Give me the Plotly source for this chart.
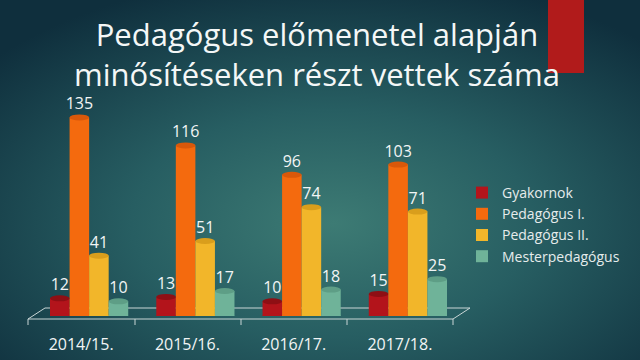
import base64
import plotly.graph_objects as go

categories = ["2014/15.", "2015/16.", "2016/17.", "2017/18."]
gyakornok = [12, 13, 10, 15]
pedagogus1 = [135, 116, 96, 103]
pedagogus2 = [41, 51, 74, 71]
mester = [10, 17, 18, 25]

series = [
    ("Gyakornok", gyakornok, "#B3141B", "#8E0F14"),
    ("Pedagógus I.", pedagogus1, "#F46A0E", "#D9580A"),
    ("Pedagógus II.", pedagogus2, "#F2B62A", "#D99E1C"),
    ("Mesterpedagógus", mester, "#6FB399", "#5E9E86"),
]

W, H = 640, 360
L, R, T, B = 36, 179, 91, 44
PW = W - L - R
PH = H - T - B
YMAX = 153
BARGAP = 0.264

svg = f'''<svg xmlns="http://www.w3.org/2000/svg" width="{W}" height="{H}">
<defs><radialGradient id="g" cx="52%" cy="62%" r="70%">
<stop offset="0" stop-color="#3D7B74"/>
<stop offset="0.45" stop-color="#275E62"/>
<stop offset="1" stop-color="#0F2F3D"/>
</radialGradient></defs>
<rect width="{W}" height="{H}" fill="url(#g)"/></svg>'''
bg = "data:image/svg+xml;base64," + base64.b64encode(svg.encode()).decode()

fig = go.Figure()
for name, vals, col, _ in series:
    fig.add_trace(go.Bar(
        x=categories, y=vals, name=name,
        marker=dict(color=col, line=dict(width=0)),
        text=[str(v) for v in vals], textposition="outside",
        textfont=dict(color="#F2F5F5", size=16, family="Open Sans"),
        cliponaxis=False, constraintext="none",
    ))


def px_x(p):
    return (p - L) / PW


def px_y(p):
    return (H - B - p) / PH


line = dict(color="#C9D6D6", width=1)
shapes = [
    dict(type="line", xref="paper", yref="paper", x0=px_x(28), x1=px_x(453),
         y0=px_y(319), y1=px_y(319), line=line, layer="below"),
    dict(type="line", xref="paper", yref="paper", x0=px_x(45), x1=px_x(470),
         y0=px_y(308), y1=px_y(308), line=line, layer="below"),
    dict(type="line", xref="paper", yref="paper", x0=px_x(28), x1=px_x(45),
         y0=px_y(319), y1=px_y(308), line=line, layer="below"),
    dict(type="line", xref="paper", yref="paper", x0=px_x(453), x1=px_x(470),
         y0=px_y(319), y1=px_y(308), line=line, layer="below"),
]
for tx in [28, 135, 241, 347, 453]:
    shapes.append(dict(type="line", xref="paper", yref="paper", x0=px_x(tx), x1=px_x(tx),
                       y0=px_y(319), y1=px_y(325), line=line, layer="below"))

# cylinder caps (top) and rounded bottoms, derived from the data
nser = len(series)
bw = (1 - BARGAP) / nser
cap_h = 3.0 * YMAX / PH  # half-height of ellipse in data units (~3px)
for si, (name, vals, col, dark) in enumerate(series):
    off = -(1 - BARGAP) / 2 + bw * (si + 0.5)
    for ci, v in enumerate(vals):
        xc = ci + off
        shapes.append(dict(type="circle", xref="x", yref="y",
                           x0=xc - bw / 2, x1=xc + bw / 2, y0=-cap_h, y1=cap_h,
                           fillcolor=col, line=dict(width=0), layer="above"))
        shapes.append(dict(type="circle", xref="x", yref="y",
                           x0=xc - bw / 2, x1=xc + bw / 2, y0=v - cap_h, y1=v + cap_h,
                           fillcolor=dark, line=dict(width=0), layer="above"))

# red accent block
shapes.append(dict(type="rect", xref="paper", yref="paper", x0=px_x(548), x1=px_x(584),
                   y0=px_y(73), y1=px_y(-2), fillcolor="#B11B1B", line=dict(width=0),
                   layer="above"))

title_text = "Pedagógus előmenetel alapján<br>minősítéseken részt vettek száma"
annotations = [dict(text=title_text, xref="paper", yref="paper", x=px_x(317), y=px_y(54),
                    xanchor="center", yanchor="middle", showarrow=False, align="center",
                    borderpad=0,
                    font=dict(size=31, color="#F4F7F7", family="Open Sans"))]

fig.update_layout(
    width=W, height=H,
    margin=dict(l=L, r=R, t=T, b=B),
    paper_bgcolor="#1B4650",
    plot_bgcolor="rgba(0,0,0,0)",
    barmode="group", bargap=BARGAP, bargroupgap=0,
    font=dict(family="Open Sans", color="#F2F5F5"),
    xaxis=dict(showgrid=False, zeroline=False, showline=False, automargin=False,
               ticks="outside", ticklen=14, tickcolor="rgba(0,0,0,0)",
               tickfont=dict(size=16, color="#F2F5F5"), ticklabelshift=-8),
    yaxis=dict(range=[0, YMAX], visible=False, automargin=False),
    legend=dict(xref="container", yref="container", x=462 / W, y=1 - 177 / H,
                xanchor="left", yanchor="top",
                font=dict(size=14, color="#E6ECEC"), bgcolor="rgba(0,0,0,0)",
                tracegroupgap=0, itemwidth=30),
    images=[dict(source=bg, xref="paper", yref="paper", x=px_x(0), y=px_y(0),
                 sizex=W / PW, sizey=H / PH, sizing="stretch", layer="below",
                 xanchor="left", yanchor="top")],
    shapes=shapes,
    annotations=annotations,
    showlegend=True,
)

fig.write_html("out.html", config={"displayModeBar": False},
               post_script="document.body.style.margin='0';document.body.style.overflow='hidden';")
